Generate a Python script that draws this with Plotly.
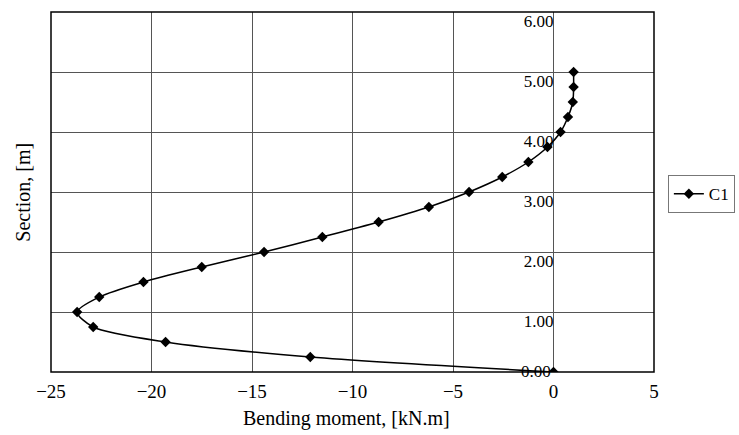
import plotly.graph_objects as go

section_m = [0.0, 0.25, 0.5, 0.75, 1.0, 1.25, 1.5, 1.75, 2.0, 2.25, 2.5,
             2.75, 3.0, 3.25, 3.5, 3.75, 4.0, 4.25, 4.5, 4.75, 5.0]
moment_knm = [0.0, -12.1, -19.3, -22.9, -23.7, -22.6, -20.4, -17.5, -14.4, -11.5, -8.7,
              -6.2, -4.2, -2.55, -1.25, -0.3, 0.35, 0.72, 0.96, 1.0, 1.0]
x_ticks = [-25, -20, -15, -10, -5, 0, 5]
y_ticks = [0, 1, 2, 3, 4, 5, 6]
series_name = "C1"

serif = "Liberation Serif, Times New Roman, serif"

fig = go.Figure()
fig.add_trace(go.Scatter(
    x=moment_knm, y=section_m, name=series_name, mode="lines+markers",
    line=dict(color="black", width=1.5, shape="spline", smoothing=0.8),
    marker=dict(symbol="diamond", size=8, color="black"),
))

fig.update_layout(
    width=739, height=435,
    margin=dict(l=51, r=85, t=12, b=63, autoexpand=False),
    paper_bgcolor="white", plot_bgcolor="white",
    font=dict(family=serif, color="black", size=15),
    showlegend=True,
    legend=dict(x=1.023, xanchor="left", y=0.494, yanchor="middle",
                bordercolor="#777", borderwidth=1, font=dict(size=17, family=serif),
                itemwidth=30),
    xaxis=dict(range=[-25, 5], tickvals=x_ticks, showgrid=True, gridcolor="#555",
               gridwidth=1, zeroline=False, showline=False, ticks="",
               ticklabelstandoff=6,
               tickfont=dict(size=19, family=serif)),
    yaxis=dict(range=[0, 6], tickvals=y_ticks[1:], tickformat=".2f", showgrid=True,
               gridcolor="#555", gridwidth=1, zeroline=False, showline=False,
               anchor="free", position=25 / 30, ticks="", ticklabelshift=9,
               ticklabelstandoff=0,
               tickfont=dict(size=17, family=serif)),
    shapes=[dict(type="rect", xref="paper", yref="paper", x0=0, x1=1, y0=0, y1=1,
                 line=dict(color="black", width=1.5), layer="above")],
    annotations=[
        dict(text=f"{y_ticks[0]:.2f}", xref="x", yref="y", x=0, y=y_ticks[0],
             xanchor="right", yanchor="middle", yshift=1, xshift=-1, showarrow=False,
             font=dict(size=17, family=serif)),
        dict(text="Bending moment, [kN.m]", xref="paper", yref="paper", x=0.49, y=-0.128,
             xanchor="center", yanchor="middle", showarrow=False,
             font=dict(size=20, family=serif)),
        dict(text="Section, [m]", xref="paper", yref="paper", x=-0.047, y=0.5,
             xanchor="center", yanchor="middle", showarrow=False, textangle=-90,
             font=dict(size=20, family=serif)),
    ],
)

fig.write_html("out.html")
